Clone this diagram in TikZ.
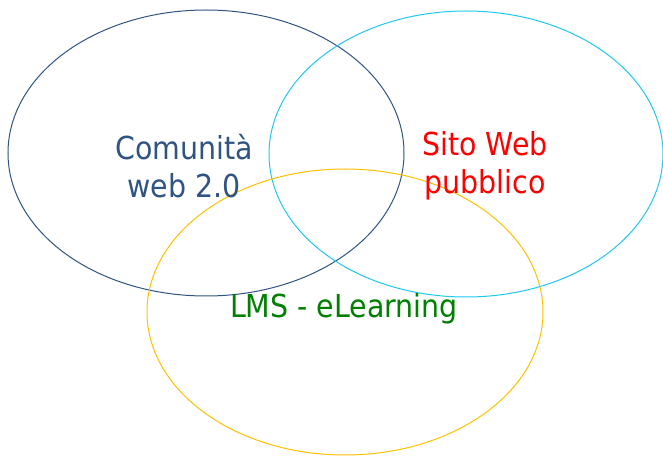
\documentclass[tikz,border=0pt]{standalone}
\usepackage{fontspec}
\setmainfont{DejaVu Sans Condensed}
\usepackage{tikz}

\definecolor{comblue}{RGB}{47,84,130}
\definecolor{sitocyan}{RGB}{30,200,240}
\definecolor{lmsyellow}{RGB}{255,192,0}
\definecolor{lmsgreen}{RGB}{0,128,0}

\tikzset{
  circleset/.style = {line width = 0.3mm},
  label/.style = {align = center, inner sep = 0pt, font = \fontsize{27}{32}\selectfont}
}

\begin{document}
\begin{tikzpicture}[x = 0.03cm, y = -0.03cm]

\useasboundingbox (0, 0) rectangle (663, 457);

\draw[circleset, draw = comblue] (206, 153) ellipse [x radius = 198, y radius = 143];
\draw[circleset, draw = sitocyan] (466, 154) ellipse [x radius = 197, y radius = 143];
\draw[circleset, draw = lmsyellow] (345, 312) ellipse [x radius = 198, y radius = 143];

\node[label, text = comblue] (comunita) at (184, 166) {Comunità\\web 2.0};
\node[label, text = red] (sito) at (485, 166) {Sito Web\\pubblico};
\node[label, text = lmsgreen] (lms) at (344, 309) {LMS - eLearning};

\end{tikzpicture}
\end{document}
